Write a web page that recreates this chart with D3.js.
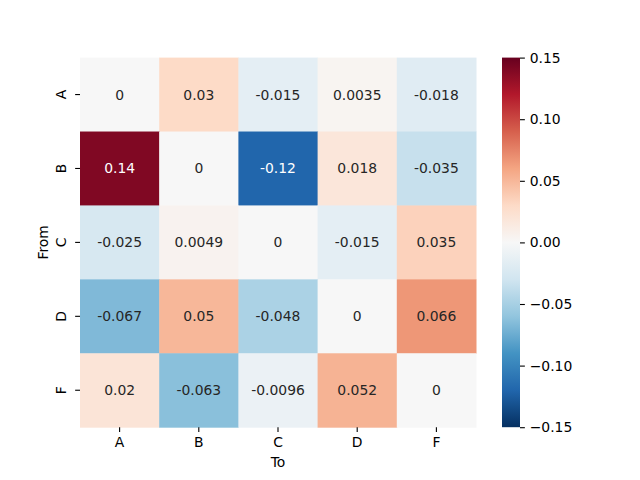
<!DOCTYPE html>
<html>
<head>
<meta charset="utf-8">
<script src="https://cdn.jsdelivr.net/npm/d3@7"></script>
<style>
body { margin: 0; background: #fff; }
text { font-family: "DejaVu Sans", sans-serif; }
</style>
</head>
<body>
<svg id="chart"></svg>
<script>
var rowNames = ["A", "B", "C", "D", "F"]
var colNames = ["A", "B", "C", "D", "F"]
var rowA = [0, 0.03, -0.015, 0.0035, -0.018]
var rowB = [0.14, 0, -0.12, 0.018, -0.035]
var rowC = [-0.025, 0.0049, 0, -0.015, 0.035]
var rowD = [-0.067, 0.05, -0.048, 0, 0.066]
var rowF = [0.02, -0.063, -0.0096, 0.052, 0]
var colorbarTicks = [-0.15, -0.10, -0.05, 0, 0.05, 0.10, 0.15]

// RdBu_r as matplotlib builds it (linear between the 11 ColorBrewer colours)
var rdbu = ["#053061", "#2166ac", "#4393c3", "#92c5de", "#d1e5f0", "#f7f7f7",
            "#fddbc7", "#f4a582", "#d6604d", "#b2182b", "#67001f"]

var matrix = [rowA, rowB, rowC, rowD, rowF]

var screen = {width: 640, height: 480}
var plot = {left: 80, top: 57.6, width: 396, height: 369.6}
var cbar = {left: 502, width: 18}

var svg = d3.select("#chart")
    .attr("width", screen.width)
    .attr("height", screen.height)

var color = d3.scaleLinear()
    .domain(d3.range(11).map(function(i) { return -0.15 + i * 0.03 }))
    .range(rdbu)
    .clamp(true)

var xScale = d3.scaleBand().domain(colNames).range([plot.left, plot.left + plot.width])
var yScale = d3.scaleBand().domain(rowNames).range([plot.top, plot.top + plot.height])

var cells = []
matrix.forEach(function(row, i) {
    row.forEach(function(v, j) {
        cells.push({row: rowNames[i], col: colNames[j], value: v})
    })
})

var fmt = d3.formatLocale({decimal: ".", thousands: ",", grouping: [3], currency: ["", ""], minus: "-"}).format(".2~g")

var luminance = function(c) {
    var rgb = d3.rgb(c)
    var lin = [rgb.r, rgb.g, rgb.b].map(function(x) {
        x = x / 255
        return x <= 0.03928 ? x / 12.92 : Math.pow((x + 0.055) / 1.055, 2.4)
    })
    return 0.2126 * lin[0] + 0.7152 * lin[1] + 0.0722 * lin[2]
}

svg.append("g").selectAll("rect")
    .data(cells)
    .enter()
    .append("rect")
    .attr("x", function(d) { return xScale(d.col) })
    .attr("y", function(d) { return yScale(d.row) })
    .attr("width", xScale.bandwidth() + 0.5)
    .attr("height", yScale.bandwidth() + 0.5)
    .attr("fill", function(d) { return color(d.value) })

svg.append("g").selectAll("text")
    .data(cells)
    .enter()
    .append("text")
    .attr("x", function(d) { return xScale(d.col) + xScale.bandwidth() / 2 })
    .attr("y", function(d) { return yScale(d.row) + yScale.bandwidth() / 2 })
    .attr("text-anchor", "middle")
    .attr("dominant-baseline", "central")
    .attr("font-size", "13.9px")
    .attr("fill", function(d) { return luminance(color(d.value)) > 0.408 ? "#262626" : "#ffffff" })
    .text(function(d) { return fmt(d.value) })

// axes
var xAxis = d3.axisBottom(xScale).tickSize(4.86).tickPadding(4.86)
var yAxis = d3.axisLeft(yScale).tickSize(4.86).tickPadding(4.86)

var gx = svg.append("g")
    .attr("transform", "translate(0," + (plot.top + plot.height) + ")")
    .call(xAxis)
gx.select(".domain").remove()
gx.selectAll("text").attr("font-size", "13.9px").attr("fill", "#000").attr("font-family", "DejaVu Sans")
gx.selectAll("line").attr("stroke", "#000").attr("stroke-width", 1.1)

var gy = svg.append("g")
    .attr("transform", "translate(" + plot.left + ",0)")
    .call(yAxis)
gy.select(".domain").remove()
gy.selectAll("line").attr("stroke", "#000").attr("stroke-width", 1.1)
gy.selectAll("text")
    .attr("font-size", "13.9px").attr("fill", "#000").attr("font-family", "DejaVu Sans")
    .attr("x", null).attr("dy", null)
    .attr("text-anchor", "middle")
    .attr("dominant-baseline", "central")
    .attr("transform", "translate(-19,0) rotate(-90)")

// axis labels
svg.append("text")
    .text("To")
    .attr("x", plot.left + plot.width / 2)
    .attr("y", 467)
    .attr("text-anchor", "middle")
    .attr("font-size", "13.9px")

svg.append("text")
    .text("From")
    .attr("text-anchor", "middle")
    .attr("font-size", "13.9px")
    .attr("transform", "translate(48," + (plot.top + plot.height / 2) + ") rotate(-90)")

// colorbar
var cScale = d3.scaleLinear().domain([-0.15, 0.15]).range([plot.top + plot.height, plot.top])

var grad = svg.append("defs").append("linearGradient")
    .attr("id", "cbgrad")
    .attr("x1", 0).attr("y1", 1).attr("x2", 0).attr("y2", 0)
grad.selectAll("stop")
    .data(color.domain())
    .enter()
    .append("stop")
    .attr("offset", function(d, i) { return i / 10 })
    .attr("stop-color", function(d) { return color(d) })

svg.append("rect")
    .attr("x", cbar.left)
    .attr("y", plot.top)
    .attr("width", cbar.width)
    .attr("height", plot.height)
    .attr("fill", "url(#cbgrad)")

var cAxis = d3.axisRight(cScale)
    .tickValues(colorbarTicks)
    .tickFormat(function(d) { return d3.format(".2f")(d) })
    .tickSize(4.86).tickPadding(4.86)

var gc = svg.append("g")
    .attr("transform", "translate(" + (cbar.left + cbar.width) + ",0)")
    .call(cAxis)
gc.select(".domain").remove()
gc.selectAll("line").attr("stroke", "#000").attr("stroke-width", 1.1)
gc.selectAll("text").attr("font-size", "13.9px").attr("fill", "#000").attr("font-family", "DejaVu Sans")
</script>
</body>
</html>
